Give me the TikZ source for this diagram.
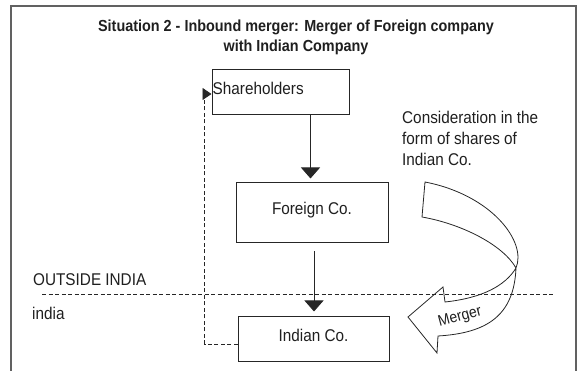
\documentclass[tikz,border=0pt]{standalone}
\usepackage{fontspec}
\setmainfont[FakeStretch=0.9]{Liberation Sans}
\usetikzlibrary{arrows.meta}

\tikzset{
  frame/.style={draw=black!62, line width=2pt},
  cobox/.style={draw=black!85, line width=1pt, inner sep=0pt},
  flow/.style={draw=black!85, line width=0.9pt, -{Triangle[width=19pt,length=11pt]}},
  back/.style={draw=black!85, line width=0.9pt, dash pattern=on 4pt off 2.5pt, -{Triangle[width=12pt,length=9pt]}},
  border/.style={draw=black!85, line width=0.9pt, dash pattern=on 4pt off 2.5pt},
  txt/.style={text=black!88, inner sep=1pt}
}

\begin{document}
\begin{tikzpicture}[x=1pt, y=-1pt, font=\fontsize{17}{21}\selectfont]
  \useasboundingbox (0,0) rectangle (579,371);
  \draw[frame] (11,372) -- (11,6) -- (576,6) -- (576,372);

  % title
  \node[txt, font=\bfseries\fontsize{16}{20}\selectfont, align=center] (title) at (296,37)
    {Situation 2 - Inbound merger: Merger of Foreign company\\with Indian Company};

  % companies
  \node[cobox, minimum width=137pt, minimum height=45pt,
        label={[txt, anchor=west, yshift=4pt]west:Shareholders}] (share) at (280.5,92.5) {};
  \node[cobox, minimum width=152pt, minimum height=60pt,
        label={[txt, yshift=3pt]center:Foreign Co.}] (foreign) at (312,213) {};
  \node[cobox, minimum width=151pt, minimum height=45pt,
        label={[txt, yshift=4pt]center:Indian Co.}] (indian) at (313.5,339.5) {};

  \draw[flow] ([xshift=30pt]share.south) -- ([xshift=-1.5pt,yshift=4pt]foreign.north);
  \draw[flow] ([xshift=2pt,yshift=-8pt]foreign.south) -- ([xshift=0.5pt,yshift=5pt]indian.north);
  \draw[back] ([yshift=-4.5pt]indian.west) -- ++(-33,0) |- ([yshift=-1.5pt]share.west);

  % border between outside india and india
  \coordinate (borderL) at (42,294);
  \coordinate (borderR) at (555,294);
  \draw[border] (borderL) -- (borderR);
  \node[txt, anchor=west] (outside) at (32,280) {OUTSIDE INDIA};
  \node[txt, anchor=west] (inside) at (31,313) {india};

  % consideration
  \node[txt, anchor=west, align=left] (consid) at (401,138.5)
    {Consideration in the\\form of shares of\\Indian Co.};

  % merger arrow
  \draw[draw=black!85, line width=0.8pt]
    (425,182) -- (422,217)
    .. controls (462,224) and (503,245) .. (516,268)
    .. controls (505,286) and (482,298) .. (445,302)
    -- (443,287) -- (408,317) -- (437,353) -- (438,336)
    .. controls (488,333) and (514,315) .. (516,268)
    .. controls (527,242) and (492,195) .. cycle;
  \node[txt, inner sep=0pt, rotate=15, font=\fontsize{15.5}{18}\selectfont] (merger) at (460,317) {Merger};
\end{tikzpicture}
\end{document}
